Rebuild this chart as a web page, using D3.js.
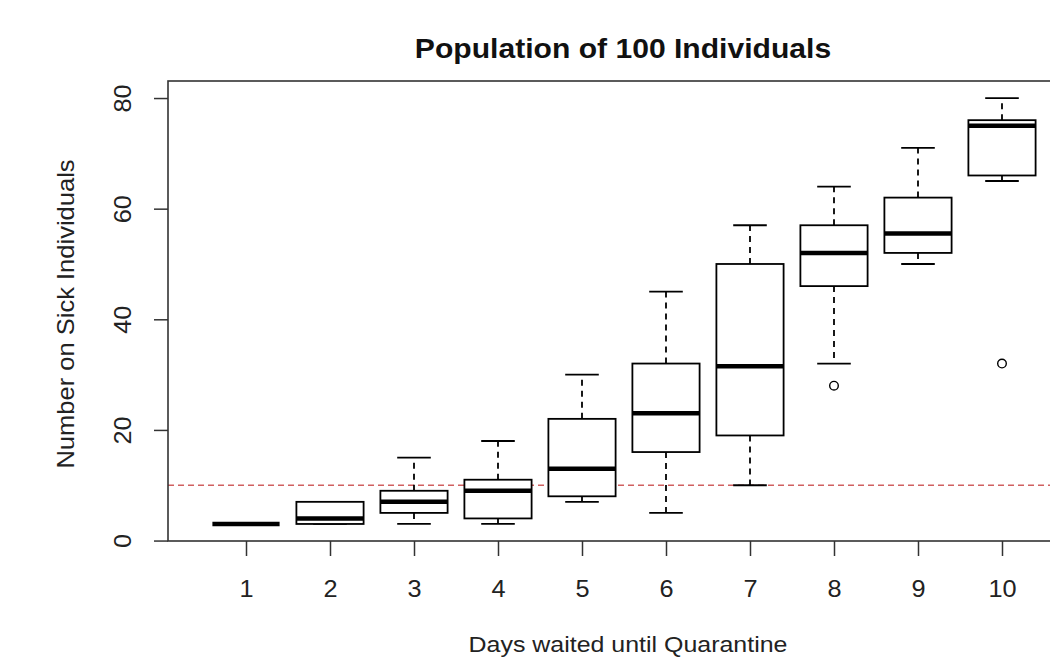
<!DOCTYPE html>
<html>
<head>
<meta charset="utf-8">
<script src="https://cdn.jsdelivr.net/npm/d3@7"></script>
<style>
  body { margin: 0; background: #fff; }
  svg { display: block; font-family: "Liberation Sans", Arial, sans-serif; }
</style>
</head>
<body>
<div id="chart"></div>
<script>
// values
const days = [1, 2, 3, 4, 5, 6, 7, 8, 9, 10];
const lowWhisker = [3, 3, 3, 3, 7, 5, 10, 32, 50, 65];
const q1 = [3, 3, 5, 4, 8, 16, 19, 46, 52, 66];
const medians = [3, 4, 7, 9, 13, 23, 31.5, 52, 55.5, 75];
const q3 = [3, 7, 9, 11, 22, 32, 50, 57, 62, 76];
const highWhisker = [3, 7, 15, 18, 30, 45, 57, 64, 71, 80];
const outlierDays = [8, 10];
const outlierValues = [28, 32];
const threshold = 10;
const yTicks = [0, 20, 40, 60, 80];

function drawBoxplot(id) {
  const w = 1050;
  const h = 659;
  const plot = { left: 168, top: 81, right: 1080, bottom: 541 };
  const sx = 1.1; // the original's font runs a bit wider than Liberation Sans

  const svg = d3
    .select(`#${id}`)
    .append("svg")
    .attr("width", w)
    .attr("height", h)
    .attr("viewBox", [0, 0, w, h]);

  // x domain chosen so ticks 1..10 land where the picture has them
  const xScale = d3
    .scaleLinear()
    .domain([0.0714, 10.9286])
    .range([plot.left, plot.right]);

  const yScale = d3
    .scaleLinear()
    .domain([-0.08, 83.08])
    .range([plot.bottom, plot.top]);

  const unit = xScale(2) - xScale(1);
  const boxW = unit * 0.8;
  const capW = boxW * 0.5;

  const stats = days.map((d, i) => ({
    day: d,
    lo: lowWhisker[i],
    q1: q1[i],
    med: medians[i],
    q3: q3[i],
    hi: highWhisker[i],
  }));

  // red reference line
  svg
    .append("line")
    .attr("x1", plot.left)
    .attr("x2", plot.right)
    .attr("y1", yScale(threshold))
    .attr("y2", yScale(threshold))
    .attr("stroke", "#d06060")
    .attr("stroke-width", 1.3)
    .attr("stroke-dasharray", "6,4");

  const boxes = svg
    .append("g")
    .attr("class", "boxes")
    .selectAll("g")
    .data(stats)
    .enter()
    .append("g")
    .attr("transform", (d) => `translate(${xScale(d.day)},0)`);

  // dashed whiskers
  boxes
    .append("line")
    .attr("y1", (d) => yScale(d.q3))
    .attr("y2", (d) => yScale(d.hi))
    .attr("stroke", "#000")
    .attr("stroke-width", 1.8)
    .attr("stroke-dasharray", "6,5");
  boxes
    .append("line")
    .attr("y1", (d) => yScale(d.q1))
    .attr("y2", (d) => yScale(d.lo))
    .attr("stroke", "#000")
    .attr("stroke-width", 1.8)
    .attr("stroke-dasharray", "6,5");

  // staples
  boxes
    .selectAll(".cap")
    .data((d) => [d.lo, d.hi])
    .enter()
    .append("line")
    .attr("class", "cap")
    .attr("x1", -capW / 2)
    .attr("x2", capW / 2)
    .attr("y1", (v) => yScale(v))
    .attr("y2", (v) => yScale(v))
    .attr("stroke", "#000")
    .attr("stroke-width", 1.8);

  // box
  boxes
    .append("rect")
    .attr("x", -boxW / 2)
    .attr("width", boxW)
    .attr("y", (d) => yScale(d.q3))
    .attr("height", (d) => yScale(d.q1) - yScale(d.q3))
    .attr("fill", "#fff")
    .attr("stroke", "#000")
    .attr("stroke-width", 1.8);

  // median
  boxes
    .append("line")
    .attr("x1", -boxW / 2)
    .attr("x2", boxW / 2)
    .attr("y1", (d) => yScale(d.med))
    .attr("y2", (d) => yScale(d.med))
    .attr("stroke", "#000")
    .attr("stroke-width", 4.5);

  // outliers
  svg
    .append("g")
    .selectAll("circle")
    .data(outlierDays.map((d, i) => ({ day: d, value: outlierValues[i] })))
    .enter()
    .append("circle")
    .attr("cx", (d) => xScale(d.day))
    .attr("cy", (d) => yScale(d.value))
    .attr("r", 4.3)
    .attr("fill", "none")
    .attr("stroke", "#000")
    .attr("stroke-width", 1.4);

  // plot frame
  svg
    .append("rect")
    .attr("x", plot.left)
    .attr("y", plot.top)
    .attr("width", plot.right - plot.left)
    .attr("height", plot.bottom - plot.top)
    .attr("fill", "none")
    .attr("stroke", "#333")
    .attr("stroke-width", 1.6);

  // y axis, labels turned like R does
  const yAxis = svg
    .append("g")
    .attr("class", "y-axis")
    .attr("transform", `translate(${plot.left},0)`)
    .call(d3.axisLeft(yScale).tickValues(yTicks).tickSize(14).tickSizeOuter(0));
  yAxis.select(".domain").remove();
  yAxis.selectAll("line").attr("stroke", "#333").attr("stroke-width", 1.5);
  yAxis
    .selectAll("text")
    .attr("transform", `translate(-37,0) rotate(-90) scale(${sx},1)`)
    .attr("x", 0)
    .attr("y", 0)
    .attr("dy", 0)
    .attr("text-anchor", "middle")
    .attr("font-size", 23)
    .attr("fill", "#222");

  // x axis
  const xAxis = svg
    .append("g")
    .attr("class", "x-axis")
    .attr("transform", `translate(0,${plot.bottom})`)
    .call(d3.axisBottom(xScale).tickValues(days).tickFormat(d3.format("d")).tickSize(15).tickSizeOuter(0));
  xAxis.select(".domain").remove();
  xAxis.selectAll("line").attr("stroke", "#333").attr("stroke-width", 1.5);
  xAxis
    .selectAll("text")
    .attr("transform", `translate(0,56) scale(${sx},1)`)
    .attr("y", 0)
    .attr("dy", 0)
    .attr("font-size", 23)
    .attr("fill", "#222");

  // titles
  const cx = (plot.left + plot.right) / 2;
  svg
    .append("text")
    .attr("transform", `translate(${cx - 1},58) scale(1.115,1)`)
    .attr("text-anchor", "middle")
    .attr("font-weight", "bold")
    .attr("font-size", 27)
    .attr("fill", "#111")
    .text("Population of 100 Individuals");

  svg
    .append("text")
    .attr("transform", `translate(${cx + 4},652) scale(1.085,1)`)
    .attr("text-anchor", "middle")
    .attr("font-size", 23)
    .attr("fill", "#222")
    .text("Days waited until Quarantine");

  svg
    .append("text")
    .attr("transform", `translate(74,314) rotate(-90) scale(1.11,1)`)
    .attr("text-anchor", "middle")
    .attr("font-size", 23)
    .attr("fill", "#222")
    .text("Number on Sick Individuals");
}

document.addEventListener("DOMContentLoaded", function () {
  drawBoxplot("chart");
});
</script>
</body>
</html>
